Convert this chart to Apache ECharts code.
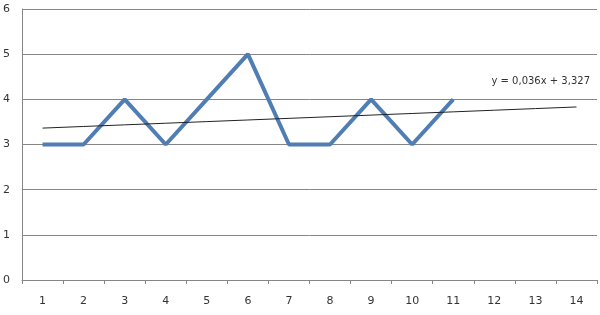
<!DOCTYPE html>
<html><head><meta charset="utf-8">
<script src="https://cdn.jsdelivr.net/npm/echarts@6/dist/echarts.min.js"></script>
<style>html,body{margin:0;padding:0;background:#fff}#c{width:600px;height:315px}</style>
</head><body><div id="c"></div>
<script>
const categories = ['1','2','3','4','5','6','7','8','9','10','11','12','13','14'];
const values = [3,3,4,3,4,5,3,3,4,3,4];
const trendSlope = 0.036;
const trendIntercept = 3.327;
const trendLabel = 'y = 0,036x + 3,327';
const yTicks = [0,1,2,3,4,5,6];

const trendData = categories.map((c,i)=> [c, trendIntercept + trendSlope*(i+1)]);

const chart = echarts.init(document.getElementById('c'));
chart.setOption({
  animation:false,
  grid:{left:22,right:3,top:9,bottom:35,containLabel:false},
  xAxis:{type:'category',data:categories,boundaryGap:true,
    axisLine:{lineStyle:{color:'#868686',width:1}},
    axisTick:{show:true,length:4,lineStyle:{color:'#868686'}},
    axisLabel:{color:'#333',fontSize:11,fontFamily:'DejaVu Sans',margin:16},
    splitLine:{show:false}},
  yAxis:{type:'value',min:yTicks[0],max:yTicks[yTicks.length-1],interval:1,
    axisLine:{show:true,lineStyle:{color:'#868686',width:1}},
    axisTick:{show:false},
    axisLabel:{color:'#333',fontSize:11,fontFamily:'DejaVu Sans',margin:12},
    splitLine:{lineStyle:{color:'#868686',width:1}}},
  series:[
    {type:'line',data:values,symbol:'none',lineStyle:{color:'#4F7DB4',width:4},z:3},
    {type:'line',data:trendData,symbol:'none',lineStyle:{color:'#222',width:1},z:4}
  ],
  graphic:[{type:'text',right:10,top:76,style:{text:trendLabel,fill:'#333',fontSize:10,fontFamily:'DejaVu Sans'}}]
});
</script></body></html>
